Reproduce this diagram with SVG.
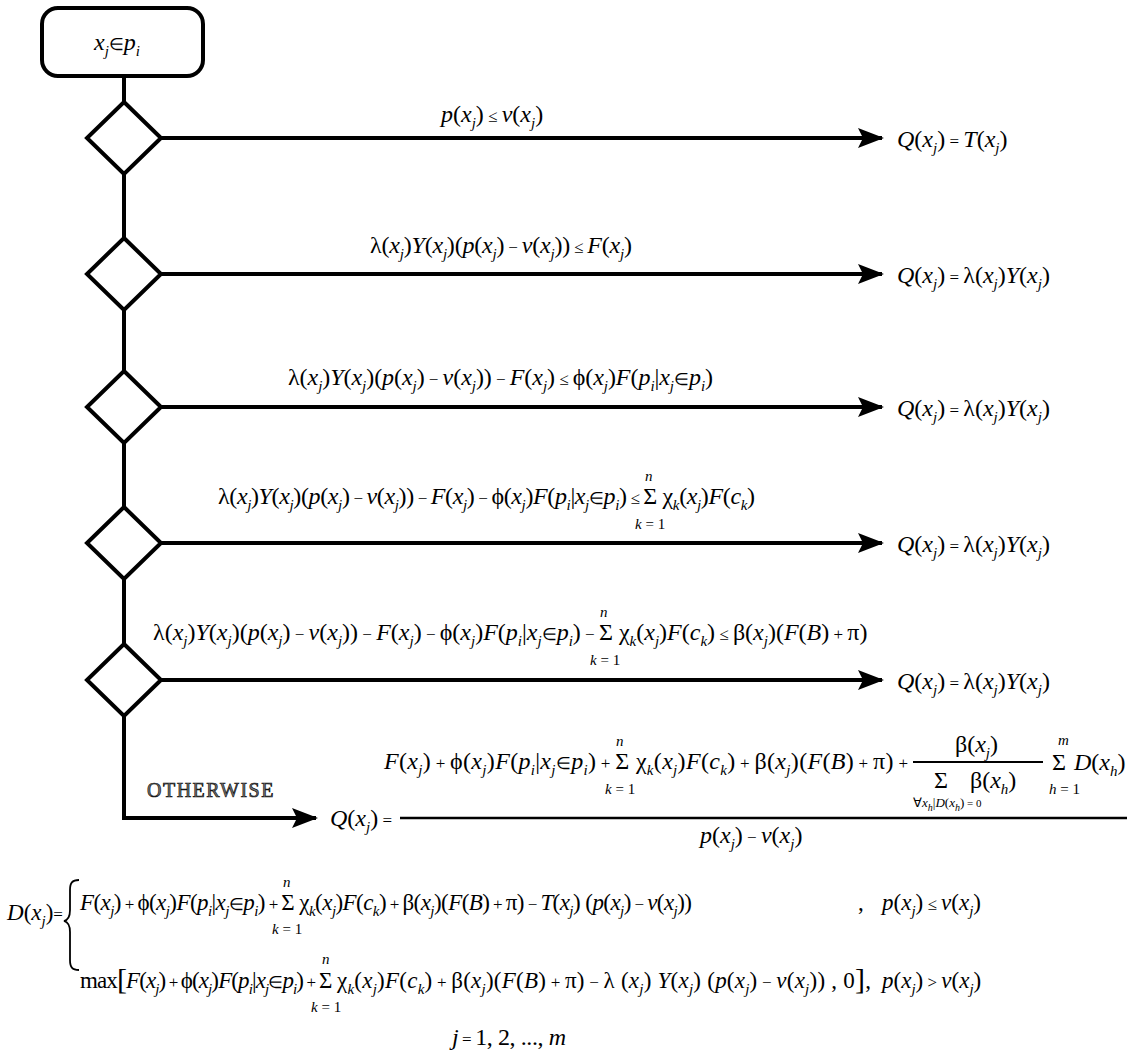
<svg xmlns="http://www.w3.org/2000/svg" width="1135" height="1057" viewBox="0 0 1135 1057">
<defs>
<style>
.m{font-family:"Liberation Serif","Times New Roman",serif;font-size:24px;fill:#000}
.d{font-size:23px}
.i{font-style:italic}
.s{font-style:italic;font-size:15px;baseline-shift:-6px}
.o{font-size:17px}
.lim{font-family:"Liberation Serif","Times New Roman",serif;font-size:15px;font-style:italic;fill:#000}
.tiny{font-family:"Liberation Serif","Times New Roman",serif;font-size:13px;fill:#000}
.line{stroke:#000;stroke-width:4;fill:none}
.dec{fill:#fff;stroke:#000;stroke-width:4;stroke-linejoin:miter}
.bar{stroke:#000;stroke-width:2.5}
.ow{font-family:"Liberation Serif","Times New Roman",serif;font-size:20px;letter-spacing:1.5px;fill:#777;stroke:#111;stroke-width:0.7px}
</style>
<marker id="ah" viewBox="0 0 26 20" refX="24" refY="10" markerWidth="26" markerHeight="20" markerUnits="userSpaceOnUse" orient="auto">
<path d="M0,0 L26,10 L0,20 L5,10 Z"/>
</marker>
</defs>
<rect width="1135" height="1057" fill="#fff"/>

<!-- flow lines -->
<g id="connectors">
<path class="line" d="M124,76 V818 H316" marker-end="url(#ah)"/>
<line class="line" x1="161" y1="138" x2="882" y2="138" marker-end="url(#ah)"/>
<line class="line" x1="161" y1="274" x2="882" y2="274" marker-end="url(#ah)"/>
<line class="line" x1="161" y1="407" x2="882" y2="407" marker-end="url(#ah)"/>
<line class="line" x1="161" y1="543" x2="882" y2="543" marker-end="url(#ah)"/>
<line class="line" x1="161" y1="680" x2="882" y2="680" marker-end="url(#ah)"/>
</g>

<!-- start node -->
<g id="start">
<rect class="dec" x="42" y="8" width="161" height="68" rx="16"/>
<text class="m" x="94" y="50"><tspan class="i">x</tspan><tspan class="s">j</tspan><tspan class="o">∈</tspan><tspan class="i">p</tspan><tspan class="s">i</tspan></text>
</g>

<!-- decision diamonds -->
<g id="d1"><polygon class="dec" points="124,102 161,138 124,174 87,138"/></g>
<g id="d2"><polygon class="dec" points="124,238 161,274 124,310 87,274"/></g>
<g id="d3"><polygon class="dec" points="124,371 161,407 124,443 87,407"/></g>
<g id="d4"><polygon class="dec" points="124,507 161,543 124,579 87,543"/></g>
<g id="d5"><polygon class="dec" points="124,644 161,680 124,716 87,680"/></g>

<!-- branch conditions -->
<g id="c1">
<text class="m" x="441" y="122"><tspan class="i">p</tspan>(<tspan class="i">x</tspan><tspan class="s">j</tspan>)<tspan class="o"> ≤ </tspan><tspan class="i">v</tspan>(<tspan class="i">x</tspan><tspan class="s">j</tspan>)</text>
</g>
<g id="c2">
<text class="m" x="370" y="253" textLength="262" lengthAdjust="spacing">λ(<tspan class="i">x</tspan><tspan class="s">j</tspan>)<tspan class="i">Y</tspan>(<tspan class="i">x</tspan><tspan class="s">j</tspan>)(<tspan class="i">p</tspan>(<tspan class="i">x</tspan><tspan class="s">j</tspan>)<tspan class="o"> − </tspan><tspan class="i">v</tspan>(<tspan class="i">x</tspan><tspan class="s">j</tspan>))<tspan class="o"> ≤ </tspan><tspan class="i">F</tspan>(<tspan class="i">x</tspan><tspan class="s">j</tspan>)</text>
</g>
<g id="c3">
<text class="m" x="288" y="385" textLength="425" lengthAdjust="spacing">λ(<tspan class="i">x</tspan><tspan class="s">j</tspan>)<tspan class="i">Y</tspan>(<tspan class="i">x</tspan><tspan class="s">j</tspan>)(<tspan class="i">p</tspan>(<tspan class="i">x</tspan><tspan class="s">j</tspan>)<tspan class="o"> − </tspan><tspan class="i">v</tspan>(<tspan class="i">x</tspan><tspan class="s">j</tspan>))<tspan class="o"> − </tspan><tspan class="i">F</tspan>(<tspan class="i">x</tspan><tspan class="s">j</tspan>)<tspan class="o"> ≤ </tspan>ϕ(<tspan class="i">x</tspan><tspan class="s">j</tspan>)<tspan class="i">F</tspan>(<tspan class="i">p</tspan><tspan class="s">i</tspan>|<tspan class="i">x</tspan><tspan class="s">j</tspan><tspan class="o">∈</tspan><tspan class="i">p</tspan><tspan class="s">i</tspan>)</text>
</g>
<g id="c4">
<text class="m" x="218" y="504" textLength="537" lengthAdjust="spacing">λ(<tspan class="i">x</tspan><tspan class="s">j</tspan>)<tspan class="i">Y</tspan>(<tspan class="i">x</tspan><tspan class="s">j</tspan>)(<tspan class="i">p</tspan>(<tspan class="i">x</tspan><tspan class="s">j</tspan>)<tspan class="o"> − </tspan><tspan class="i">v</tspan>(<tspan class="i">x</tspan><tspan class="s">j</tspan>))<tspan class="o"> − </tspan><tspan class="i">F</tspan>(<tspan class="i">x</tspan><tspan class="s">j</tspan>)<tspan class="o"> − </tspan>ϕ(<tspan class="i">x</tspan><tspan class="s">j</tspan>)<tspan class="i">F</tspan>(<tspan class="i">p</tspan><tspan class="s">i</tspan>|<tspan class="i">x</tspan><tspan class="s">j</tspan><tspan class="o">∈</tspan><tspan class="i">p</tspan><tspan class="s">i</tspan>)<tspan class="o"> ≤ </tspan>Σ χ<tspan class="s">k</tspan>(<tspan class="i">x</tspan><tspan class="s">j</tspan>)<tspan class="i">F</tspan>(<tspan class="i">c</tspan><tspan class="s">k</tspan>)</text>
<text class="lim" x="645" y="481">n</text>
<text class="lim" x="635" y="529">k<tspan style="font-style:normal"> = 1</tspan></text>
</g>
<g id="c5">
<text class="m" x="153" y="640">λ(<tspan class="i">x</tspan><tspan class="s">j</tspan>)<tspan class="i">Y</tspan>(<tspan class="i">x</tspan><tspan class="s">j</tspan>)(<tspan class="i">p</tspan>(<tspan class="i">x</tspan><tspan class="s">j</tspan>)<tspan class="o"> − </tspan><tspan class="i">v</tspan>(<tspan class="i">x</tspan><tspan class="s">j</tspan>))<tspan class="o"> − </tspan><tspan class="i">F</tspan>(<tspan class="i">x</tspan><tspan class="s">j</tspan>)<tspan class="o"> − </tspan>ϕ(<tspan class="i">x</tspan><tspan class="s">j</tspan>)<tspan class="i">F</tspan>(<tspan class="i">p</tspan><tspan class="s">i</tspan>|<tspan class="i">x</tspan><tspan class="s">j</tspan><tspan class="o">∈</tspan><tspan class="i">p</tspan><tspan class="s">i</tspan>)<tspan class="o"> − </tspan>Σ χ<tspan class="s">k</tspan>(<tspan class="i">x</tspan><tspan class="s">j</tspan>)<tspan class="i">F</tspan>(<tspan class="i">c</tspan><tspan class="s">k</tspan>)<tspan class="o"> ≤ </tspan>β(<tspan class="i">x</tspan><tspan class="s">j</tspan>)(<tspan class="i">F</tspan>(<tspan class="i">B</tspan>)<tspan class="o"> + </tspan>π)</text>
<text class="lim" x="600" y="617">n</text>
<text class="lim" x="590" y="665">k<tspan style="font-style:normal"> = 1</tspan></text>
</g>

<!-- outcomes -->
<g id="q1"><text class="m" x="897" y="147"><tspan class="i">Q</tspan>(<tspan class="i">x</tspan><tspan class="s">j</tspan>)<tspan class="o"> = </tspan><tspan class="i">T</tspan>(<tspan class="i">x</tspan><tspan class="s">j</tspan>)</text></g>
<g id="q2"><text class="m" x="897" y="283"><tspan class="i">Q</tspan>(<tspan class="i">x</tspan><tspan class="s">j</tspan>)<tspan class="o"> = </tspan>λ(<tspan class="i">x</tspan><tspan class="s">j</tspan>)<tspan class="i">Y</tspan>(<tspan class="i">x</tspan><tspan class="s">j</tspan>)</text></g>
<g id="q3"><text class="m" x="897" y="416"><tspan class="i">Q</tspan>(<tspan class="i">x</tspan><tspan class="s">j</tspan>)<tspan class="o"> = </tspan>λ(<tspan class="i">x</tspan><tspan class="s">j</tspan>)<tspan class="i">Y</tspan>(<tspan class="i">x</tspan><tspan class="s">j</tspan>)</text></g>
<g id="q4"><text class="m" x="897" y="552"><tspan class="i">Q</tspan>(<tspan class="i">x</tspan><tspan class="s">j</tspan>)<tspan class="o"> = </tspan>λ(<tspan class="i">x</tspan><tspan class="s">j</tspan>)<tspan class="i">Y</tspan>(<tspan class="i">x</tspan><tspan class="s">j</tspan>)</text></g>
<g id="q5"><text class="m" x="897" y="689"><tspan class="i">Q</tspan>(<tspan class="i">x</tspan><tspan class="s">j</tspan>)<tspan class="o"> = </tspan>λ(<tspan class="i">x</tspan><tspan class="s">j</tspan>)<tspan class="i">Y</tspan>(<tspan class="i">x</tspan><tspan class="s">j</tspan>)</text></g>

<!-- otherwise branch -->
<g id="otherwise">
<text class="ow" x="147" y="797">OTHERWISE</text>
<text class="m" x="330" y="826"><tspan class="i">Q</tspan>(<tspan class="i">x</tspan><tspan class="s">j</tspan>)<tspan class="o"> =</tspan></text>
<line class="bar" x1="400" y1="818" x2="1127" y2="818"/>
<text class="m" x="384" y="769" textLength="524" lengthAdjust="spacing"><tspan class="i">F</tspan>(<tspan class="i">x</tspan><tspan class="s">j</tspan>)<tspan class="o"> + </tspan>ϕ(<tspan class="i">x</tspan><tspan class="s">j</tspan>)<tspan class="i">F</tspan>(<tspan class="i">p</tspan><tspan class="s">i</tspan>|<tspan class="i">x</tspan><tspan class="s">j</tspan><tspan class="o">∈</tspan><tspan class="i">p</tspan><tspan class="s">i</tspan>)<tspan class="o"> + </tspan>Σ χ<tspan class="s">k</tspan>(<tspan class="i">x</tspan><tspan class="s">j</tspan>)<tspan class="i">F</tspan>(<tspan class="i">c</tspan><tspan class="s">k</tspan>)<tspan class="o"> + </tspan>β(<tspan class="i">x</tspan><tspan class="s">j</tspan>)(<tspan class="i">F</tspan>(<tspan class="i">B</tspan>)<tspan class="o"> + </tspan>π)<tspan class="o"> +</tspan></text>
<text class="lim" x="616" y="746">n</text>
<text class="lim" x="605" y="794">k<tspan style="font-style:normal"> = 1</tspan></text>
<text class="m" x="955" y="752">β(<tspan class="i">x</tspan><tspan class="s">j</tspan>)</text>
<line x1="913" y1="762" x2="1043" y2="762" stroke="#000" stroke-width="2"/>
<text class="m" x="934" y="788">Σ</text>
<text class="m" x="970" y="788">β(<tspan class="i">x</tspan><tspan class="s">h</tspan>)</text>
<text class="tiny" x="913" y="807">∀<tspan class="i">x</tspan><tspan class="i" style="font-size:10px;baseline-shift:-4px">h</tspan>|<tspan class="i">D</tspan>(<tspan class="i">x</tspan><tspan class="i" style="font-size:10px;baseline-shift:-4px">h</tspan>)<tspan style="font-size:11px"> = 0</tspan></text>
<text class="m" x="1052" y="770">Σ</text>
<text class="lim" x="1058" y="745">m</text>
<text class="lim" x="1049" y="794">h<tspan style="font-style:normal"> = 1</tspan></text>
<text class="m" x="1074" y="770"><tspan class="i">D</tspan>(<tspan class="i">x</tspan><tspan class="s">h</tspan>)</text>
<text class="m" x="700" y="843"><tspan class="i">p</tspan>(<tspan class="i">x</tspan><tspan class="s">j</tspan>)<tspan class="o"> − </tspan><tspan class="i">v</tspan>(<tspan class="i">x</tspan><tspan class="s">j</tspan>)</text>
</g>

<!-- shortfall definition -->
<g id="shortfall">
<text class="m d" x="7" y="920"><tspan class="i">D</tspan>(<tspan class="i">x</tspan><tspan class="s">j</tspan>)<tspan class="o">=</tspan></text>
<path d="M79,880 C72,880 70,883 70,890 V910 C70,917 68,920 64,921 C68,922 70,925 70,932 V960 C70,967 72,970 79,970" fill="none" stroke="#000" stroke-width="1.8"/>
<!-- case p <= v -->
<text class="m d" x="80" y="910" textLength="612" lengthAdjust="spacing"><tspan class="i">F</tspan>(<tspan class="i">x</tspan><tspan class="s">j</tspan>)<tspan class="o"> + </tspan>ϕ(<tspan class="i">x</tspan><tspan class="s">j</tspan>)<tspan class="i">F</tspan>(<tspan class="i">p</tspan><tspan class="s">i</tspan>|<tspan class="i">x</tspan><tspan class="s">j</tspan><tspan class="o">∈</tspan><tspan class="i">p</tspan><tspan class="s">i</tspan>)<tspan class="o"> + </tspan>Σ χ<tspan class="s">k</tspan>(<tspan class="i">x</tspan><tspan class="s">j</tspan>)<tspan class="i">F</tspan>(<tspan class="i">c</tspan><tspan class="s">k</tspan>)<tspan class="o"> + </tspan>β(<tspan class="i">x</tspan><tspan class="s">j</tspan>)(<tspan class="i">F</tspan>(<tspan class="i">B</tspan>)<tspan class="o"> + </tspan>π)<tspan class="o"> − </tspan><tspan class="i">T</tspan>(<tspan class="i">x</tspan><tspan class="s">j</tspan>) (<tspan class="i">p</tspan>(<tspan class="i">x</tspan><tspan class="s">j</tspan>)<tspan class="o"> − </tspan><tspan class="i">v</tspan>(<tspan class="i">x</tspan><tspan class="s">j</tspan>))</text>
<text class="m d" x="858" y="910">,</text>
<text class="m d" x="882" y="910"><tspan class="i">p</tspan>(<tspan class="i">x</tspan><tspan class="s">j</tspan>)<tspan class="o"> ≤ </tspan><tspan class="i">v</tspan>(<tspan class="i">x</tspan><tspan class="s">j</tspan>)</text>
<text class="lim" x="283" y="887">n</text>
<text class="lim" x="272" y="934">k<tspan style="font-style:normal"> = 1</tspan></text>
<!-- case p > v -->
<text class="m d" x="80" y="988" textLength="236" lengthAdjust="spacing">max<tspan style="font-size:30px" dy="1">[</tspan><tspan dy="-1" class="i">F</tspan>(<tspan class="i">x</tspan><tspan class="s">j</tspan>)<tspan class="o"> + </tspan>ϕ(<tspan class="i">x</tspan><tspan class="s">j</tspan>)<tspan class="i">F</tspan>(<tspan class="i">p</tspan><tspan class="s">i</tspan>|<tspan class="i">x</tspan><tspan class="s">j</tspan><tspan class="o">∈</tspan><tspan class="i">p</tspan><tspan class="s">i</tspan>)<tspan class="o"> +</tspan></text>
<text class="m d" x="319" y="988">Σ</text>
<text class="m d" x="337" y="988" textLength="534" lengthAdjust="spacing">χ<tspan class="s">k</tspan>(<tspan class="i">x</tspan><tspan class="s">j</tspan>)<tspan class="i">F</tspan>(<tspan class="i">c</tspan><tspan class="s">k</tspan>)<tspan class="o"> + </tspan>β(<tspan class="i">x</tspan><tspan class="s">j</tspan>)(<tspan class="i">F</tspan>(<tspan class="i">B</tspan>)<tspan class="o"> + </tspan>π)<tspan class="o"> − </tspan>λ (<tspan class="i">x</tspan><tspan class="s">j</tspan>) <tspan class="i">Y</tspan>(<tspan class="i">x</tspan><tspan class="s">j</tspan>) (<tspan class="i">p</tspan>(<tspan class="i">x</tspan><tspan class="s">j</tspan>)<tspan class="o"> − </tspan><tspan class="i">v</tspan>(<tspan class="i">x</tspan><tspan class="s">j</tspan>)) , 0<tspan style="font-size:30px" dy="1">]</tspan><tspan dy="-1">,</tspan></text>
<text class="m d" x="882" y="988"><tspan class="i">p</tspan>(<tspan class="i">x</tspan><tspan class="s">j</tspan>)<tspan class="o"> &gt; </tspan><tspan class="i">v</tspan>(<tspan class="i">x</tspan><tspan class="s">j</tspan>)</text>
<text class="lim" x="322" y="964">n</text>
<text class="lim" x="311" y="1012">k<tspan style="font-style:normal"> = 1</tspan></text>
<text class="m" x="452" y="1045" textLength="114" lengthAdjust="spacing"><tspan class="i">j</tspan><tspan class="o"> = </tspan>1, 2, ..., <tspan class="i">m</tspan></text>
</g>
</svg>
